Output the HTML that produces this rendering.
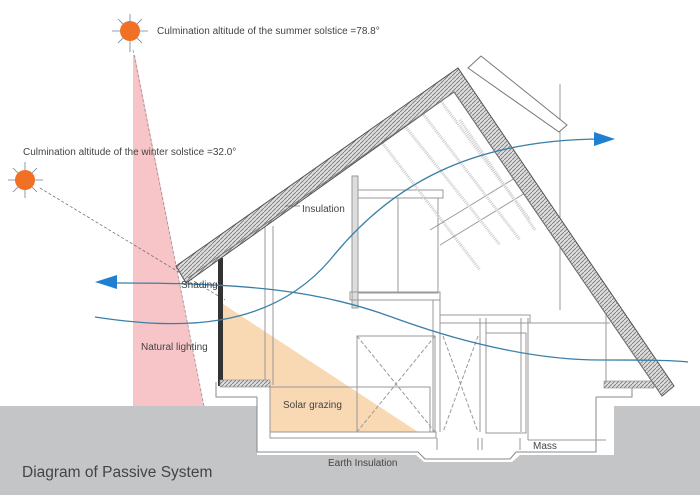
<!DOCTYPE html>
<html><head><meta charset="utf-8"><style>
html,body{margin:0;padding:0;background:#fff;}
svg{display:block;font-family:"Liberation Sans",sans-serif;}
</style></head><body>
<svg width="700" height="495" viewBox="0 0 700 495" xmlns="http://www.w3.org/2000/svg">
<defs>
<pattern id="hatch" width="4" height="4" patternUnits="userSpaceOnUse">
<rect width="4" height="4" fill="#ddd"/><path d="M0 4L4 0" stroke="#777" stroke-width="0.8"/>
</pattern>
</defs>
<rect x="0" y="406" width="700" height="89" fill="#c4c5c7"/>
<polygon points="216,382 261,382 261,397 216,397" fill="#fff"/>
<polygon points="204,406 257,406 257,455 416,455 424,462 512,462 520,455 614,455 614,406 658,406 658,397 257,397 257,406" fill="#fff"/>
<path d="M257 397 L257 452 L418 452 L425 459 L510 459 L516 452 L596 452 L596 397" fill="none" stroke="#888" stroke-width="1"/>
<path d="M216 382 L216 397 L257 397" fill="none" stroke="#888"/>
<path d="M596 397 L632 397 L632 388" fill="none" stroke="#888"/>
<polygon points="133,55 135,55 204,406 133,406" fill="#f7c5c8"/>
<line x1="133" y1="50" x2="204" y2="406" stroke="#888" stroke-dasharray="3,2" stroke-width="0.7"/>
<line x1="40" y1="188" x2="225" y2="300" stroke="#666" stroke-dasharray="3,2" stroke-width="0.7"/>
<polygon points="220,302 220,387 270,387 270,432 418,432" fill="#f9d8b4"/>
<g stroke="#999" stroke-width="1" fill="none">
<line x1="265" y1="226" x2="265" y2="385"/>
<line x1="273" y1="226" x2="273" y2="385"/>
<rect x="352" y="176" width="6" height="132" fill="#ddd"/>
<rect x="358" y="190" width="85" height="8"/>
<rect x="358" y="198" width="80" height="95"/>
<line x1="398" y1="198" x2="398" y2="293"/>
<rect x="350" y="292" width="90" height="8"/>
<line x1="433" y1="300" x2="433" y2="432"/>
<line x1="440" y1="300" x2="440" y2="432"/>
<rect x="440" y="315" width="90" height="8"/>
<line x1="440" y1="323" x2="610" y2="323"/>
<line x1="480" y1="318" x2="480" y2="432"/>
<line x1="486" y1="318" x2="486" y2="432"/>
<rect x="486" y="333" width="40" height="100"/>
<line x1="521" y1="318" x2="521" y2="432"/>
<line x1="528" y1="318" x2="528" y2="440"/>
<line x1="528" y1="440" x2="606" y2="440"/>
<line x1="606" y1="310" x2="606" y2="388"/>
<rect x="357" y="336" width="78" height="96"/>
<line x1="357" y1="336" x2="435" y2="432" stroke-dasharray="4,2"/>
<line x1="435" y1="336" x2="357" y2="432" stroke-dasharray="4,2"/>
<line x1="443" y1="336" x2="478" y2="432" stroke-dasharray="4,2"/>
<line x1="478" y1="336" x2="443" y2="432" stroke-dasharray="4,2"/>
<rect x="270" y="387" width="160" height="45"/>
<rect x="270" y="432" width="166" height="6"/>
<line x1="437" y1="438" x2="437" y2="450"/>
<line x1="478" y1="438" x2="478" y2="450"/>
<line x1="482" y1="438" x2="482" y2="450"/>
<line x1="520" y1="438" x2="520" y2="450"/>
<line x1="560" y1="84" x2="560" y2="310"/>
<line x1="430" y1="230" x2="520" y2="175"/>
<line x1="440" y1="245" x2="530" y2="190"/>
</g>
<g stroke="#ccc" stroke-width="3" stroke-dasharray="1,1">
<line x1="400" y1="120" x2="500" y2="245"/>
<line x1="420" y1="110" x2="520" y2="240"/>
<line x1="440" y1="100" x2="530" y2="220"/>
<line x1="380" y1="140" x2="480" y2="270"/>
<line x1="460" y1="120" x2="535" y2="230"/>
</g>
<rect x="218" y="258" width="5" height="128" fill="#333"/>
<rect x="220" y="380" width="50" height="7" fill="url(#hatch)" stroke="#888" stroke-width="0.6"/>
<rect x="604" y="381" width="50" height="7" fill="url(#hatch)" stroke="#888" stroke-width="0.6"/>
<polygon points="176,266 458,68 674,386 662,396 454,92 186,283" fill="url(#hatch)" stroke="#555" stroke-width="1"/>
<polyline points="188,278 454,92 662,396" fill="none" stroke="#777" stroke-width="1"/>
<polygon points="468,68 481,56 567,125 559,132" fill="#fff" stroke="#777"/>
<g stroke="#3a7fa8" stroke-width="1.3" fill="none">
<path d="M95 317 C180 330 270 330 330 260 C390 185 470 140 600 139"/>
<path d="M112 283 C250 283 320 290 400 320 C470 345 540 360 600 360 C640 360 670 360 688 362"/>
</g>
<polygon points="615,139 594,132 594,146" fill="#1f7fd0"/>
<polygon points="95,282 117,275 117,289" fill="#1f7fd0"/>
<g stroke="#6b7ea8" stroke-width="0.8">
<line x1="130" y1="14" x2="130" y2="52"/><line x1="112" y1="31" x2="148" y2="31"/>
<line x1="118" y1="19" x2="142" y2="43"/><line x1="142" y1="19" x2="118" y2="43"/>
<line x1="25" y1="162" x2="25" y2="198"/><line x1="8" y1="180" x2="43" y2="180"/>
<line x1="13" y1="168" x2="37" y2="192"/><line x1="37" y1="168" x2="13" y2="192"/>
</g>
<circle cx="130" cy="31" r="10" fill="#f07026"/>
<circle cx="25" cy="180" r="10" fill="#f07026"/>
<g fill="#444" font-size="10">
<text x="157" y="34">Culmination altitude of the summer solstice =78.8°</text>
<text x="23" y="155">Culmination altitude of the winter solstice =32.0°</text>
<text x="302" y="212">Insulation</text>
<text x="181" y="288">Shading</text>
<text x="141" y="350">Natural lighting</text>
<text x="283" y="408">Solar grazing</text>
<text x="328" y="466">Earth Insulation</text>
<text x="533" y="449">Mass</text>
</g>
<line x1="285" y1="206" x2="300" y2="206" stroke="#555" stroke-width="0.6"/>
<text x="22" y="477" font-size="15.5" fill="#444">Diagram of Passive System</text>
</svg>
</body></html>
